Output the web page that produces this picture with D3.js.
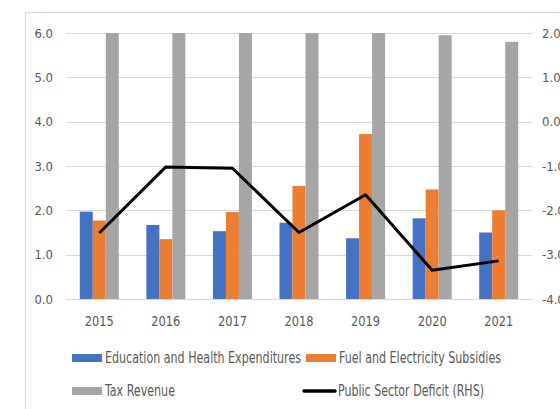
<!DOCTYPE html>
<html lang="en">
<head>
<meta charset="utf-8">
<title>Fiscal chart</title>
<script src="https://d3js.org/d3.v7.min.js"></script>
<style>
  body { margin: 0; background: #fff; }
  text { font-family: "Liberation Sans Narrow", "DejaVu Sans Condensed", sans-serif; fill: #595959; }
</style>
</head>
<body>
<div id="chart"></div>
<script>
// data
const years = ["2015", "2016", "2017", "2018", "2019", "2020", "2021"];
const eduHealth = [1.97, 1.67, 1.53, 1.72, 1.37, 1.82, 1.50];
const fuelSubsidies = [1.77, 1.35, 1.96, 2.55, 3.72, 2.47, 2.00];
const taxRevenue = [6.0, 6.0, 6.0, 6.0, 6.0, 5.95, 5.80];
const deficit = [-2.51, -1.02, -1.05, -2.50, -1.65, -3.35, -3.14];
const leftTicks = [0, 1, 2, 3, 4, 5, 6];
const rightTicks = [-4, -3, -2, -1, 0, 1, 2];

const seriesNames = ["Education and Health Expenditures", "Fuel and Electricity Subsidies", "Tax Revenue"];
const colors = ["#4472C4", "#ED7D31", "#A5A5A5"];

const width = 560, height = 409;
const plotLeft = 66, plotRight = 532, plotTop = 33, plotBottom = 299;

const svg = d3.select("#chart").append("svg")
  .attr("width", width).attr("height", height);

// chart frame
svg.append("rect")
  .attr("x", 25.5).attr("y", 12.5)
  .attr("width", 700).attr("height", 500)
  .attr("fill", "none").attr("stroke", "#d9d9d9");

const x = d3.scaleBand().domain(years).range([plotLeft, plotRight]);
const xSub = d3.scaleBand().domain(seriesNames).range([0, x.bandwidth()]).paddingOuter(1.06);
const yLeft = d3.scaleLinear().domain([0, 6]).range([plotBottom, plotTop]).clamp(true);
const yRight = d3.scaleLinear().domain([-4, 2]).range([plotBottom, plotTop]);

// gridlines
svg.append("g")
  .selectAll("line")
  .data(leftTicks)
  .join("line")
  .attr("x1", plotLeft).attr("x2", plotRight)
  .attr("y1", d => Math.round(yLeft(d)) + 0.5)
  .attr("y2", d => Math.round(yLeft(d)) + 0.5)
  .attr("stroke", "#d9d9d9");

// left axis labels
svg.append("g")
  .selectAll("text")
  .data(leftTicks)
  .join("text")
  .attr("x", 53).attr("y", d => yLeft(d))
  .attr("dy", "0.35em")
  .attr("text-anchor", "end")
  .attr("font-size", 13)
  .text(d => d.toFixed(1));

// right axis labels (cut by the picture edge, as in the original)
svg.append("g")
  .selectAll("text")
  .data(rightTicks)
  .join("text")
  .attr("x", 542).attr("y", d => yRight(d))
  .attr("dy", "0.35em")
  .attr("font-size", 13)
  .text(d => d.toFixed(1));

// x labels
svg.append("g")
  .selectAll("text")
  .data(years)
  .join("text")
  .attr("x", d => x(d) + x.bandwidth() / 2)
  .attr("y", 321)
  .attr("dy", "0.35em")
  .attr("text-anchor", "middle")
  .attr("font-size", 14)
  .attr("textLength", 29)
  .attr("lengthAdjust", "spacingAndGlyphs")
  .text(d => d);

// bars
const table = years.map((yr, i) => ({
  year: yr,
  values: [eduHealth[i], fuelSubsidies[i], taxRevenue[i]]
}));

svg.append("g")
  .selectAll("g")
  .data(table)
  .join("g")
  .attr("transform", d => `translate(${x(d.year)},0)`)
  .selectAll("rect")
  .data(d => d.values.map((v, j) => ({ key: seriesNames[j], value: v, color: colors[j] })))
  .join("rect")
  .attr("x", d => xSub(d.key))
  .attr("width", xSub.bandwidth())
  .attr("y", d => yLeft(d.value))
  .attr("height", d => yLeft(0) - yLeft(d.value))
  .attr("fill", d => d.color);

// deficit line on right axis
const line = d3.line()
  .x((d, i) => x(years[i]) + x.bandwidth() / 2)
  .y(d => yRight(d));

svg.append("path")
  .datum(deficit)
  .attr("d", line)
  .attr("fill", "none")
  .attr("stroke", "#000")
  .attr("stroke-width", 3)
  .attr("stroke-linejoin", "round");

// legend
const legendItems = [
  { name: seriesNames[0], color: colors[0], type: "rect", x: 72, y: 358, w: 196 },
  { name: seriesNames[1], color: colors[1], type: "rect", x: 306, y: 358, w: 162 },
  { name: seriesNames[2], color: colors[2], type: "rect", x: 72, y: 391, w: 70 },
  { name: "Public Sector Deficit (RHS)", color: "#000", type: "line", x: 304, y: 391, w: 146 }
];

const legend = svg.append("g")
  .selectAll("g")
  .data(legendItems)
  .join("g")
  .attr("transform", d => `translate(${d.x},${d.y})`);

legend.filter(d => d.type === "rect").append("rect")
  .attr("x", 0).attr("y", -4)
  .attr("width", 30).attr("height", 8)
  .attr("fill", d => d.color);

legend.filter(d => d.type === "line").append("line")
  .attr("x1", 0).attr("x2", 31)
  .attr("stroke", d => d.color)
  .attr("stroke-width", 3.5)
  .attr("stroke-linecap", "round");

legend.append("text")
  .attr("x", d => d.type === "rect" ? 33 : 34)
  .attr("dy", "0.35em")
  .attr("font-size", 15)
  .attr("textLength", d => d.w)
  .attr("lengthAdjust", "spacingAndGlyphs")
  .text(d => d.name);
</script>
</body>
</html>
